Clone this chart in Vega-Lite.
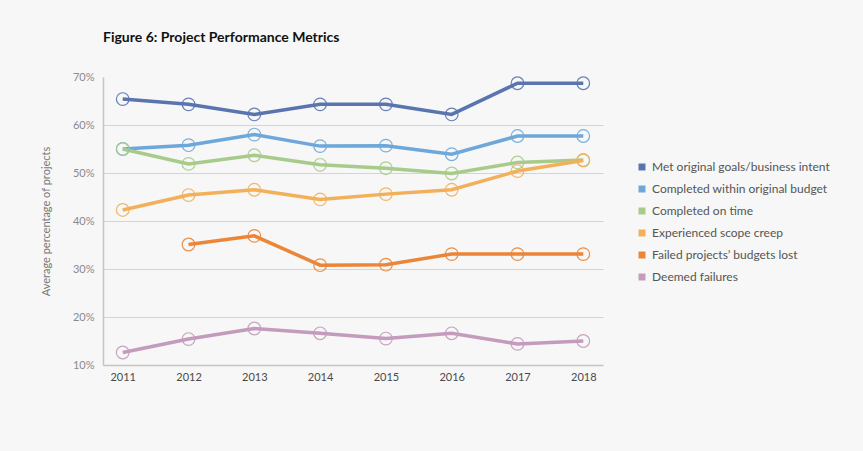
{
  "$schema": "https://vega.github.io/schema/vega-lite/v6.json",
  "width": 500,
  "height": 288,
  "autosize": {"type": "none"},
  "padding": {"left": 103, "top": 77, "right": 260, "bottom": 86},
  "background": "#f6f7f6",
  "title": {
    "text": "Figure 6: Project Performance Metrics",
    "anchor": "start",
    "frame": "group",
    "font": "Lato",
    "fontSize": 14,
    "fontWeight": "bold",
    "color": "#111111",
    "offset": 26
  },
  "data": {
    "values": [
      {"year": "2011", "series": "Met original goals/business intent", "value": 0.654},
      {"year": "2012", "series": "Met original goals/business intent", "value": 0.643},
      {"year": "2013", "series": "Met original goals/business intent", "value": 0.622},
      {"year": "2014", "series": "Met original goals/business intent", "value": 0.643},
      {"year": "2015", "series": "Met original goals/business intent", "value": 0.643},
      {"year": "2016", "series": "Met original goals/business intent", "value": 0.622},
      {"year": "2017", "series": "Met original goals/business intent", "value": 0.687},
      {"year": "2018", "series": "Met original goals/business intent", "value": 0.687},
      {"year": "2011", "series": "Completed within original budget", "value": 0.55},
      {"year": "2012", "series": "Completed within original budget", "value": 0.558},
      {"year": "2013", "series": "Completed within original budget", "value": 0.58},
      {"year": "2014", "series": "Completed within original budget", "value": 0.556},
      {"year": "2015", "series": "Completed within original budget", "value": 0.557},
      {"year": "2016", "series": "Completed within original budget", "value": 0.539},
      {"year": "2017", "series": "Completed within original budget", "value": 0.577},
      {"year": "2018", "series": "Completed within original budget", "value": 0.577},
      {"year": "2011", "series": "Completed on time", "value": 0.55},
      {"year": "2012", "series": "Completed on time", "value": 0.519},
      {"year": "2013", "series": "Completed on time", "value": 0.537},
      {"year": "2014", "series": "Completed on time", "value": 0.517},
      {"year": "2015", "series": "Completed on time", "value": 0.51},
      {"year": "2016", "series": "Completed on time", "value": 0.499},
      {"year": "2017", "series": "Completed on time", "value": 0.522},
      {"year": "2018", "series": "Completed on time", "value": 0.527},
      {"year": "2011", "series": "Experienced scope creep", "value": 0.423},
      {"year": "2012", "series": "Experienced scope creep", "value": 0.454},
      {"year": "2013", "series": "Experienced scope creep", "value": 0.465},
      {"year": "2014", "series": "Experienced scope creep", "value": 0.445},
      {"year": "2015", "series": "Experienced scope creep", "value": 0.456},
      {"year": "2016", "series": "Experienced scope creep", "value": 0.465},
      {"year": "2017", "series": "Experienced scope creep", "value": 0.504},
      {"year": "2018", "series": "Experienced scope creep", "value": 0.526},
      {"year": "2012", "series": "Failed projects’ budgets lost", "value": 0.351},
      {"year": "2013", "series": "Failed projects’ budgets lost", "value": 0.369},
      {"year": "2014", "series": "Failed projects’ budgets lost", "value": 0.308},
      {"year": "2015", "series": "Failed projects’ budgets lost", "value": 0.309},
      {"year": "2016", "series": "Failed projects’ budgets lost", "value": 0.331},
      {"year": "2017", "series": "Failed projects’ budgets lost", "value": 0.331},
      {"year": "2018", "series": "Failed projects’ budgets lost", "value": 0.331},
      {"year": "2011", "series": "Deemed failures", "value": 0.126},
      {"year": "2012", "series": "Deemed failures", "value": 0.154},
      {"year": "2013", "series": "Deemed failures", "value": 0.176},
      {"year": "2014", "series": "Deemed failures", "value": 0.166},
      {"year": "2015", "series": "Deemed failures", "value": 0.155},
      {"year": "2016", "series": "Deemed failures", "value": 0.166},
      {"year": "2017", "series": "Deemed failures", "value": 0.144},
      {"year": "2018", "series": "Deemed failures", "value": 0.15}
    ]
  },
  "encoding": {
    "x": {
      "field": "year",
      "type": "ordinal",
      "scale": {"type": "point", "padding": 0.3},
      "axis": {
        "title": null,
        "labelAngle": 0,
        "labelFont": "Lato",
        "labelFontSize": 11,
        "labelColor": "#4a4a4a",
        "labelPadding": 6,
        "ticks": false,
        "grid": false,
        "domainColor": "#c4c4c4",
        "domainWidth": 1.5
      }
    },
    "y": {
      "field": "value",
      "type": "quantitative",
      "scale": {"domain": [0.1, 0.7], "nice": false, "zero": false},
      "axis": {
        "title": "Average percentage of projects",
        "titleFont": "Lato",
        "titleFontSize": 11,
        "titleFontWeight": "normal",
        "titleColor": "#777777",
        "titlePadding": 21,
        "format": ".0%",
        "values": [0.1, 0.2, 0.3, 0.4, 0.5, 0.6, 0.7],
        "labelFont": "Lato",
        "labelFontSize": 11,
        "labelColor": "#8a8a8a",
        "labelPadding": 9,
        "ticks": false,
        "domainColor": "#c4c4c4",
        "domainWidth": 1.5,
        "gridColor": "#d4d4d4",
        "gridWidth": 1,
        "gridOpacity": {"condition": {"test": "datum.value > 0.65 || datum.value < 0.15", "value": 0}, "value": 1}
      }
    },
    "color": {
      "field": "series",
      "type": "nominal",
      "scale": {
        "domain": [
          "Met original goals/business intent",
          "Completed within original budget",
          "Completed on time",
          "Experienced scope creep",
          "Failed projects’ budgets lost",
          "Deemed failures"
        ],
        "range": ["#5a74b0", "#6ea8da", "#a8cb8b", "#f3b05a", "#eb8538", "#c49bbd"]
      },
      "legend": {
        "title": null,
        "orient": "none",
        "legendX": 533,
        "legendY": 84,
        "symbolType": "square",
        "symbolSize": 12,
        "symbolStrokeWidth": 3.5,
        "symbolOpacity": 1,
        "labelFont": "Lato",
        "labelFontSize": 12,
        "labelColor": "#555555",
        "labelLimit": 300,
        "labelOffset": 4,
        "rowPadding": 4
      }
    }
  },
  "layer": [
    {"mark": {"type": "line", "strokeWidth": 3.5}},
    {"mark": {"type": "point", "shape": "circle", "filled": false, "size": 160, "strokeWidth": 1.2, "opacity": 0.9}}
  ],
  "config": {"view": {"stroke": null}}
}
